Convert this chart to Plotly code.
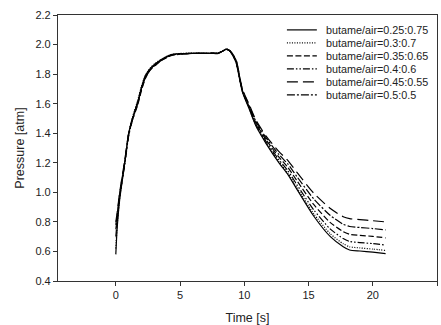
import plotly.graph_objects as go

time_s = [0, 0.1, 0.3, 0.7, 1.0, 1.3, 1.7, 2.0, 2.3, 2.7, 3.1, 3.6, 4.3, 5, 6, 7, 7.5, 7.9, 8.3, 8.6, 8.9,
          9.35, 9.85, 10.4, 10.9, 11.7, 12.7, 13.4, 14.1, 15.4, 16.7, 17.7, 18.2, 19, 20, 21]

p_025 = [0.58, 0.75, 0.95, 1.20, 1.40, 1.50, 1.61, 1.71, 1.79, 1.84, 1.87, 1.90, 1.93, 1.938, 1.94, 1.94, 1.942, 1.94, 1.955, 1.97, 1.955,
         1.88, 1.68, 1.56, 1.45, 1.33, 1.20, 1.12, 1.02, 0.84, 0.70, 0.632, 0.61, 0.603, 0.595, 0.585]
p_030 = [0.62, 0.77, 0.96, 1.21, 1.40, 1.51, 1.62, 1.72, 1.79, 1.845, 1.875, 1.905, 1.932, 1.94, 1.942, 1.941, 1.943, 1.94, 1.956, 1.97, 1.956,
         1.882, 1.682, 1.563, 1.454, 1.335, 1.208, 1.13, 1.032, 0.856, 0.719, 0.652, 0.631, 0.624, 0.616, 0.607]
p_035 = [0.75, 0.82, 0.98, 1.20, 1.39, 1.49, 1.59, 1.69, 1.77, 1.83, 1.86, 1.895, 1.925, 1.935, 1.94, 1.94, 1.941, 1.94, 1.955, 1.968, 1.955,
         1.89, 1.69, 1.575, 1.47, 1.355, 1.238, 1.168, 1.078, 0.918, 0.795, 0.734, 0.716, 0.709, 0.702, 0.692]
p_040 = [0.70, 0.80, 0.97, 1.19, 1.38, 1.49, 1.60, 1.70, 1.78, 1.835, 1.865, 1.90, 1.928, 1.936, 1.94, 1.94, 1.941, 1.939, 1.954, 1.968, 1.955,
         1.885, 1.685, 1.568, 1.461, 1.344, 1.22, 1.146, 1.051, 0.882, 0.751, 0.687, 0.667, 0.66, 0.653, 0.643]
p_045 = [0.80, 0.86, 1.00, 1.22, 1.40, 1.50, 1.61, 1.705, 1.78, 1.835, 1.87, 1.90, 1.93, 1.938, 1.94, 1.94, 1.942, 1.94, 1.955, 1.97, 1.957,
         1.90, 1.70, 1.59, 1.49, 1.38, 1.275, 1.215, 1.135, 0.995, 0.89, 0.835, 0.822, 0.815, 0.808, 0.80]
p_050 = [0.78, 0.84, 0.99, 1.21, 1.39, 1.50, 1.60, 1.70, 1.775, 1.83, 1.865, 1.895, 1.928, 1.937, 1.94, 1.941, 1.942, 1.94, 1.955, 1.968, 1.956,
         1.895, 1.695, 1.583, 1.48, 1.368, 1.256, 1.191, 1.106, 0.956, 0.843, 0.784, 0.769, 0.762, 0.755, 0.746]

series_names = ["butame/air=0.25:0.75", "butame/air=0.3:0.7", "butame/air=0.35:0.65",
                "butame/air=0.4:0.6", "butame/air=0.45:0.55", "butame/air=0.5:0.5"]
series_values = [p_025, p_030, p_035, p_040, p_045, p_050]
dashes = ["solid", "1px,1.5px", "6px,2.5px", "7px,2px,1.5px,2px,1.5px,2px", "11px,5px", "8px,2px,2px,2px"]

x_ticks = [0, 5, 10, 15, 20, 25]
y_ticks = [0.4, 0.6, 0.8, 1.0, 1.2, 1.4, 1.6, 1.8, 2.0, 2.2]

fig = go.Figure()
for name, vals, d in zip(series_names, series_values, dashes):
    fig.add_trace(go.Scatter(x=time_s, y=vals, mode="lines", name=name, showlegend=False,
                             line=dict(color="black", width=1.2, dash=d, shape="spline", smoothing=0.6)))

# compact legend (sample line + label), placed in paper coordinates
leg_x0, leg_x1, leg_tx = 0.604, 0.683, 0.703
leg_top, leg_step = 0.944, 0.0489
for i, (name, d) in enumerate(zip(series_names, dashes)):
    yy = leg_top - i * leg_step
    fig.add_shape(type="line", xref="paper", yref="paper", x0=leg_x0, x1=leg_x1, y0=yy, y1=yy,
                  line=dict(color="black", width=1.2, dash=d))
    fig.add_annotation(xref="paper", yref="paper", x=leg_tx, y=yy, text=name, showarrow=False,
                       xanchor="left", yanchor="middle", font=dict(size=10.8, color="#222"))

font_family = "Liberation Sans, Arial, sans-serif"
fig.update_layout(
    width=441, height=325,
    margin=dict(l=58, r=4, t=15, b=44),
    paper_bgcolor="white", plot_bgcolor="white",
    font=dict(family=font_family, size=11, color="#222"),
    showlegend=False,
    xaxis=dict(range=[-4.5, 25], tickvals=x_ticks, ticks="outside", ticklen=4,
               tickcolor="#333", showline=True, linecolor="#333", linewidth=1.2,
               mirror=True, showgrid=False, zeroline=False,
               title=dict(text="Time [s]", font=dict(size=12.5, color="#222"), standoff=12)),
    yaxis=dict(range=[0.4, 2.2], tickvals=y_ticks, tickformat=".1f", ticks="outside", ticklen=4,
               tickcolor="#333", showline=True, linecolor="#333", linewidth=1.2,
               mirror=True, showgrid=False, zeroline=False,
               title=dict(text="Pressure [atm]", font=dict(size=12.5, color="#222"), standoff=8)),
)

fig.write_html("out.html")
